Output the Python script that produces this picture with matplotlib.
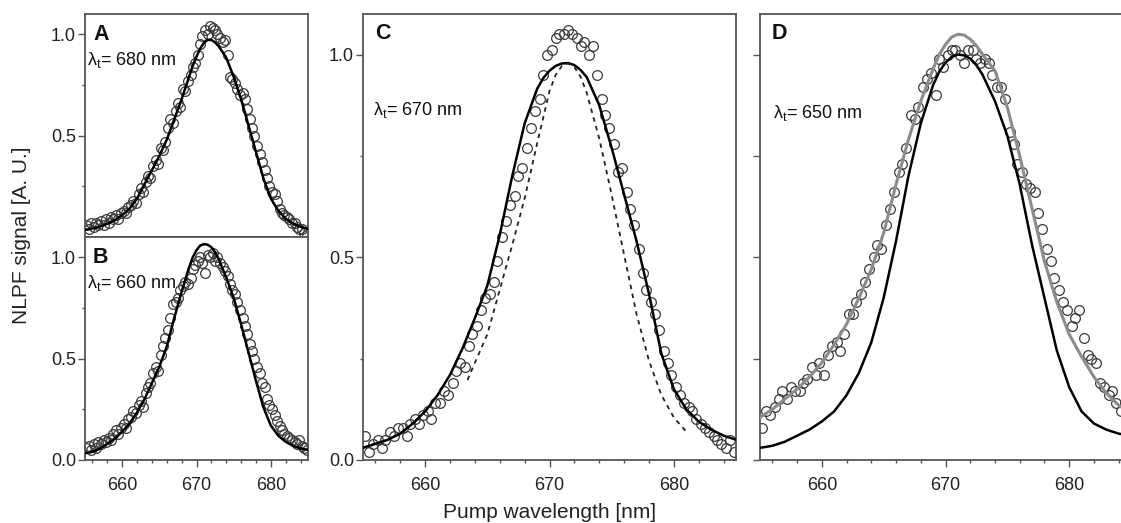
import matplotlib
matplotlib.use('Agg')
import matplotlib.pyplot as plt
from matplotlib.ticker import MultipleLocator, FixedLocator, NullFormatter

plt.rcParams['font.family'] = ['Liberation Sans', 'DejaVu Sans']
plt.rcParams['mathtext.fontset'] = 'custom'
plt.rcParams['mathtext.rm'] = 'Liberation Sans'
plt.rcParams['mathtext.it'] = 'Liberation Sans'
plt.rcParams['mathtext.default'] = 'regular'

# ── data ─────────────────────────────────────────────────────────────────
# pump wavelength of the measured points (nm), shared by the four scans
pump_nm = [655.2, 655.5, 655.8, 656.2, 656.5, 656.8, 657.2, 657.5, 657.8,
           658.2, 658.5, 658.8, 659.2, 659.5, 659.8, 660.2, 660.5, 660.8,
           661.2, 661.5, 661.8, 662.2, 662.5, 662.8, 663.2, 663.5, 663.8,
           664.2, 664.5, 664.8, 665.2, 665.5, 665.8, 666.2, 666.5, 666.8,
           667.2, 667.5, 667.8, 668.2, 668.5, 668.8, 669.2, 669.5, 669.8,
           670.2, 670.5, 670.8, 671.2, 671.5, 671.8, 672.2, 672.5, 672.8,
           673.2, 673.5, 673.8, 674.2, 674.5, 674.8, 675.2, 675.5, 675.8,
           676.2, 676.5, 676.8, 677.2, 677.5, 677.8, 678.2, 678.5, 678.8,
           679.2, 679.5, 679.8, 680.2, 680.5, 680.8, 681.2, 681.5, 681.8,
           682.2, 682.5, 682.8, 683.2, 683.5, 683.8, 684.2, 684.5, 684.8]

# measured NLPF signal, probe at 680 / 660 / 670 / 650 nm
sig_a = [0.06, 0.04, 0.07, 0.05, 0.07, 0.06, 0.08, 0.06, 0.09,
         0.07, 0.10, 0.09, 0.11, 0.09, 0.12, 0.13, 0.12, 0.15,
         0.16, 0.18, 0.17, 0.21, 0.24, 0.22, 0.27, 0.30, 0.29,
         0.35, 0.38, 0.36, 0.44, 0.43, 0.47, 0.54, 0.58, 0.56,
         0.62, 0.66, 0.64, 0.73, 0.72, 0.77, 0.80, 0.84, 0.86,
         0.90, 0.95, 0.99, 1.02, 1.00, 1.04, 1.03, 1.02, 1.00,
         0.98, 0.96, 0.97, 0.90, 0.79, 0.78, 0.76, 0.73, 0.70,
         0.71, 0.68, 0.63, 0.58, 0.54, 0.50, 0.45, 0.41, 0.37,
         0.33, 0.29, 0.25, 0.22, 0.21, 0.18, 0.14, 0.12, 0.11,
         0.10, 0.09, 0.07, 0.07, 0.05, 0.04, 0.04, 0.02, 0.01]

sig_b = [0.06, 0.07, 0.05, 0.08, 0.06, 0.09, 0.08, 0.10, 0.09,
         0.11, 0.10, 0.13, 0.15, 0.13, 0.16, 0.18, 0.16, 0.20,
         0.21, 0.24, 0.23, 0.27, 0.29, 0.26, 0.33, 0.36, 0.38,
         0.43, 0.46, 0.44, 0.52, 0.56, 0.60, 0.64, 0.70, 0.77,
         0.78, 0.80, 0.84, 0.86, 0.88, 0.87, 0.90, 0.94, 0.96,
         0.98, 1.00, 0.97, 0.92, 1.01, 1.00, 1.02, 0.98, 1.00,
         0.97, 0.95, 0.93, 0.91, 0.87, 0.84, 0.82, 0.78, 0.74,
         0.70, 0.66, 0.62, 0.57, 0.54, 0.50, 0.46, 0.43, 0.38,
         0.36, 0.30, 0.27, 0.25, 0.22, 0.19, 0.17, 0.15, 0.13,
         0.12, 0.11, 0.10, 0.09, 0.08, 0.10, 0.07, 0.06, 0.05]

sig_c = [0.06, 0.02, 0.04, 0.05, 0.03, 0.05, 0.07, 0.06, 0.08,
         0.08, 0.06, 0.09, 0.10, 0.09, 0.11, 0.12, 0.10, 0.14,
         0.14, 0.17, 0.16, 0.19, 0.22, 0.24, 0.23, 0.28, 0.31,
         0.33, 0.37, 0.40, 0.41, 0.44, 0.49, 0.55, 0.59, 0.63,
         0.65, 0.70, 0.72, 0.77, 0.82, 0.86, 0.89, 0.95, 1.00,
         1.01, 1.04, 1.05, 1.05, 1.06, 1.05, 1.04, 1.02, 1.03,
         1.00, 1.02, 0.95, 0.89, 0.85, 0.82, 0.78, 0.71, 0.72,
         0.66, 0.62, 0.58, 0.52, 0.46, 0.42, 0.39, 0.36, 0.32,
         0.27, 0.24, 0.21, 0.18, 0.16, 0.14, 0.13, 0.12, 0.10,
         0.09, 0.08, 0.07, 0.06, 0.05, 0.04, 0.03, 0.05, 0.02]

sig_d = [0.08, 0.12, 0.11, 0.13, 0.15, 0.17, 0.15, 0.18, 0.17,
         0.17, 0.19, 0.20, 0.23, 0.21, 0.24, 0.21, 0.26, 0.28,
         0.29, 0.27, 0.31, 0.36, 0.36, 0.39, 0.41, 0.44, 0.47,
         0.50, 0.53, 0.52, 0.58, 0.62, 0.66, 0.71, 0.73, 0.77,
         0.85, 0.84, 0.87, 0.92, 0.94, 0.955, 0.90, 0.99, 0.97,
         1.00, 1.01, 1.01, 1.00, 0.98, 1.01, 1.01, 0.99, 0.98,
         0.99, 0.98, 0.95, 0.92, 0.92, 0.89, 0.81, 0.78, 0.73,
         0.71, 0.68, 0.67, 0.66, 0.61, 0.57, 0.52, 0.49, 0.45,
         0.42, 0.39, 0.37, 0.33, 0.35, 0.37, 0.30, 0.26, 0.25,
         0.24, 0.19, 0.18, 0.16, 0.17, 0.14, 0.12, 0.14, 0.12]

# model curves (every nm, every half nm around the peak)
fit_nm = [655, 656, 657, 658, 659, 660, 661, 662, 663, 664, 665, 666, 667,
          668, 669, 669.5, 670, 670.5, 671, 671.5, 672, 672.5, 673, 674, 675,
          676, 677, 678, 679, 680, 681, 682, 683, 684, 685]
fit_a = [0.035, 0.042, 0.052, 0.065, 0.083, 0.108, 0.14, 0.19, 0.26, 0.33,
         0.40, 0.48, 0.58, 0.68, 0.79, 0.845, 0.89, 0.93, 0.958, 0.972,
         0.972, 0.96, 0.94, 0.885, 0.79, 0.68, 0.55, 0.42, 0.29, 0.19, 0.13,
         0.09, 0.065, 0.05, 0.04]
fit_b = [0.033, 0.04, 0.055, 0.08, 0.105, 0.14, 0.18, 0.235, 0.30, 0.38,
         0.46, 0.56, 0.70, 0.83, 0.95, 1.0, 1.035, 1.058, 1.065, 1.062,
         1.05, 1.025, 0.99, 0.90, 0.80, 0.67, 0.53, 0.39, 0.26, 0.17, 0.12,
         0.09, 0.07, 0.057, 0.05]
fit_c = [0.03, 0.04, 0.05, 0.065, 0.09, 0.12, 0.16, 0.21, 0.275, 0.35,
         0.43, 0.555, 0.70, 0.83, 0.915, 0.942, 0.96, 0.972, 0.978, 0.979,
         0.974, 0.962, 0.944, 0.875, 0.77, 0.655, 0.54, 0.41, 0.262, 0.175,
         0.125, 0.095, 0.075, 0.06, 0.05]
fit_d = [0.03, 0.035, 0.045, 0.06, 0.075, 0.095, 0.12, 0.16, 0.215, 0.29,
         0.40, 0.54, 0.70, 0.83, 0.925, 0.958, 0.98, 0.994, 1.0, 0.998,
         0.99, 0.974, 0.95, 0.885, 0.80, 0.68, 0.53, 0.40, 0.27, 0.18, 0.12,
         0.09, 0.075, 0.065, 0.06]
fit_d_grey = [0.105, 0.125, 0.15, 0.175, 0.205, 0.24, 0.285, 0.335, 0.40,
              0.47, 0.56, 0.68, 0.79, 0.885, 0.965, 1.0, 1.025, 1.043, 1.05,
              1.048, 1.038, 1.022, 1.0, 0.96, 0.87, 0.75, 0.62, 0.49, 0.39,
              0.31, 0.255, 0.205, 0.165, 0.135, 0.115]

# narrower dashed curve in C (drawn only over part of the range)
narrow_nm = [663.4, 664, 665, 666, 667, 668, 669, 670, 670.5, 671, 671.5, 672,
             672.5, 673, 674, 675, 676, 677, 678, 679, 680, 681]
fit_c_narrow = [0.197, 0.24, 0.31, 0.42, 0.53, 0.645, 0.78, 0.91, 0.95,
                0.972, 0.978, 0.969, 0.945, 0.905, 0.793, 0.654, 0.506, 0.36,
                0.245, 0.16, 0.105, 0.07]

probe = ['680', '660', '670', '650']
panel = ['A', 'B', 'C', 'D']

FRAME = '#555555'
W, H = 1121, 523

fig = plt.figure(figsize=(W / 100, H / 100), dpi=100)


def px_axes(left, top, right, bottom):
    return fig.add_axes([left / W, 1 - bottom / H, (right - left) / W, (bottom - top) / H])


def style(ax):
    ax.set_xlim(655, 685)
    ax.set_ylim(0, 1.1)
    for s in ax.spines.values():
        s.set_color(FRAME)
        s.set_linewidth(1.3)
    ax.tick_params(which='both', direction='out', color=FRAME, labelcolor='#222222',
                   labelsize=13, top=False, right=False, width=1)
    ax.tick_params(which='major', length=5)
    ax.tick_params(which='minor', length=2.5)
    ax.tick_params(axis='x', pad=7)
    ax.tick_params(axis='y', pad=1.5)
    ax.xaxis.set_major_locator(MultipleLocator(10))
    ax.xaxis.set_minor_locator(MultipleLocator(2))
    ax.yaxis.set_major_formatter(plt.FormatStrFormatter('%.1f'))


def data(ax, y):
    ax.plot(pump_nm, y, 'o', ms=7, mfc='none', mec='#3a3a3a', mew=0.9, zorder=2)


ax_a = px_axes(85, 14, 308, 237)
ax_b = px_axes(85, 237, 308, 460)
ax_c = px_axes(363, 14, 736, 460)
ax_d = px_axes(760, 14, 1131, 460)   # right edge falls outside the figure
axes = [ax_a, ax_b, ax_c, ax_d]

for ax in axes:
    style(ax)

data(ax_a, sig_a)
ax_a.plot(fit_nm, fit_a, color='black', lw=1.8, zorder=3)
data(ax_b, sig_b)
ax_b.plot(fit_nm, fit_b, color='black', lw=1.8, zorder=3)
data(ax_c, sig_c)
ax_c.plot(fit_nm, fit_c, color='black', lw=1.8, zorder=3)
ax_c.plot(narrow_nm, fit_c_narrow, color='#222222', lw=1.3,
          linestyle=(0, (2.5, 2.5)), zorder=3)
data(ax_d, sig_d)
ax_d.plot(fit_nm, fit_d_grey, color='#8c8c8c', lw=2.2, zorder=3)
ax_d.plot(fit_nm, fit_d, color='black', lw=1.8, zorder=3)

# y ticks
ax_a.yaxis.set_major_locator(FixedLocator([0.5, 1.0]))
ax_a.yaxis.set_minor_locator(FixedLocator([0.25, 0.75]))
ax_a.tick_params(axis='x', which='both', bottom=False, labelbottom=False)
for ax in (ax_b, ax_c):
    ax.yaxis.set_major_locator(FixedLocator([0.0, 0.5, 1.0]))
    ax.yaxis.set_minor_locator(FixedLocator([0.25, 0.75]))
ax_d.yaxis.set_major_locator(MultipleLocator(0.25))
ax_d.yaxis.set_major_formatter(NullFormatter())

# panel letters and probe wavelengths
letter_pos = [(0.036, 0.906), (0.036, 0.906), (0.032, 0.957), (0.032, 0.957)]
probe_pos = [(0.009, 0.794), (0.009, 0.794), (0.027, 0.785), (0.035, 0.778)]
for ax, letter, lp, wl, pp in zip(axes, panel, letter_pos, probe, probe_pos):
    ax.text(lp[0], lp[1], letter, transform=ax.transAxes, fontsize=15.5,
            fontweight='bold', ha='left', va='center', color='#111111')
    ax.text(pp[0], pp[1], r'$\lambda_\mathrm{t}$= ' + wl + ' nm', transform=ax.transAxes,
            fontsize=13, ha='left', va='center', color='#111111')

fig.text(22 / W, 1 - 235 / H, 'NLPF signal [A. U.]', rotation=90, fontsize=15,
         ha='center', va='center', color='#222222')
fig.text(549.5 / W, 1 - 518 / H, 'Pump wavelength [nm]', fontsize=15,
         ha='center', va='baseline', color='#222222')

fig.savefig('out.png', dpi=100, facecolor='white')
